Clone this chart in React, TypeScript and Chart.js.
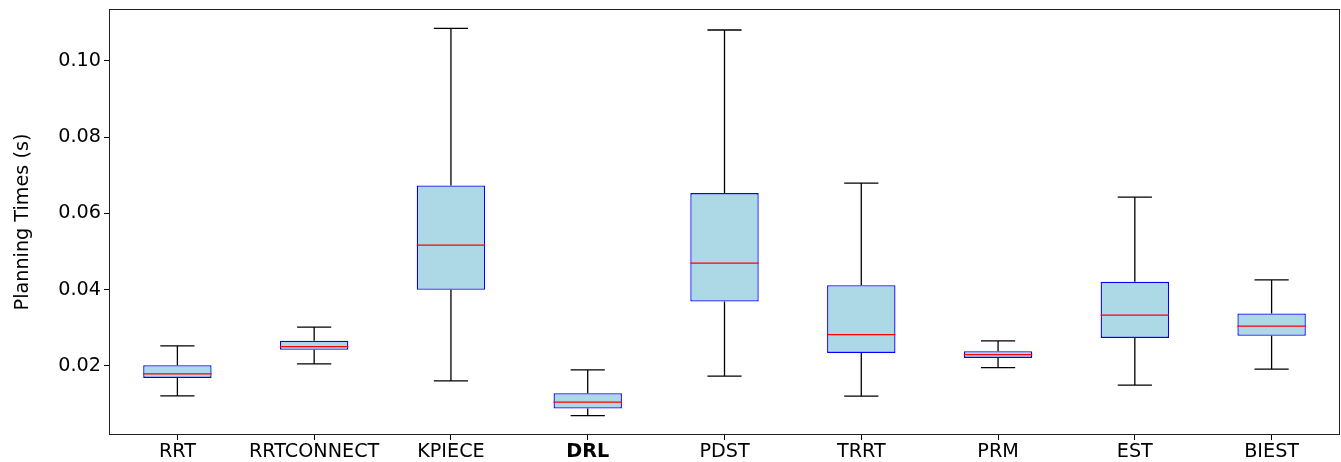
import React, { useEffect, useRef } from "react";
import { Chart, registerables } from "chart.js";

Chart.register(...registerables);

const categories = ["RRT", "RRTCONNECT", "KPIECE", "DRL", "PDST", "TRRT", "PRM", "EST", "BIEST"];
const whiskerLow = [0.01213, 0.02052, 0.01607, 0.00696, 0.0173, 0.01205, 0.01955, 0.01494, 0.01913];
const q1 = [0.01685, 0.0242, 0.03993, 0.0088, 0.03687, 0.02341, 0.0221, 0.02734, 0.02787];
const medians = [0.0179, 0.02506, 0.05166, 0.01048, 0.04694, 0.02821, 0.02297, 0.0333, 0.03041];
const q3 = [0.02018, 0.02656, 0.0673, 0.01284, 0.0653, 0.04117, 0.02385, 0.04203, 0.03372];
const whiskerHigh = [0.02525, 0.03015, 0.10848, 0.01895, 0.10805, 0.0679, 0.02656, 0.06425, 0.04256];
const yTickValues = [0.02, 0.04, 0.06, 0.08, 0.1];
const boldCategory = "DRL";

const FONT = "'DejaVu Sans', sans-serif";
const FSIZE = 19.2;

const boxPlugin = {
  id: "boxExtras",
  afterDatasetsDraw(chart: any) {
    const ctx = chart.ctx;
    const xs = chart.scales.x;
    const ys = chart.scales.y;
    const meta = chart.getDatasetMeta(0);
    ctx.save();
    categories.forEach((_, i) => {
      const el: any = meta.data[i];
      const cx = xs.getPixelForValue(i);
      const w = el.width;
      const capHalf = w / 4;
      const yLow = ys.getPixelForValue(whiskerLow[i]);
      const yQ1 = ys.getPixelForValue(q1[i]);
      const yQ3 = ys.getPixelForValue(q3[i]);
      const yHigh = ys.getPixelForValue(whiskerHigh[i]);
      const yMed = ys.getPixelForValue(medians[i]);
      ctx.strokeStyle = "#000000";
      ctx.lineWidth = 1.3;
      ctx.beginPath();
      ctx.moveTo(cx, yQ3);
      ctx.lineTo(cx, yHigh);
      ctx.moveTo(cx - capHalf, yHigh);
      ctx.lineTo(cx + capHalf, yHigh);
      ctx.moveTo(cx, yQ1);
      ctx.lineTo(cx, yLow);
      ctx.moveTo(cx - capHalf, yLow);
      ctx.lineTo(cx + capHalf, yLow);
      ctx.stroke();
      ctx.strokeStyle = "#ff0000";
      ctx.lineWidth = 1.3;
      ctx.beginPath();
      ctx.moveTo(cx - w / 2, yMed);
      ctx.lineTo(cx + w / 2, yMed);
      ctx.stroke();
    });
    const a = chart.chartArea;
    ctx.strokeStyle = "#222222";
    ctx.lineWidth = 1;
    ctx.strokeRect(a.left + 0.5, a.top + 0.5, a.right - a.left - 1, a.bottom - a.top - 1);
    ctx.restore();
  },
};

export default function App() {
  const ref = useRef<HTMLCanvasElement | null>(null);
  useEffect(() => {
    document.body.style.margin = "0";
    if (!ref.current) return;
    const dMin = Math.min(...whiskerLow);
    const dMax = Math.max(...whiskerHigh);
    const pad = (dMax - dMin) * 0.05;
    const chart = new Chart(ref.current, {
      type: "bar",
      data: {
        labels: categories,
        datasets: [
          {
            data: categories.map((_, i) => [q1[i], q3[i]]) as any,
            backgroundColor: "#ADD8E6",
            borderColor: "#0000FF",
            borderWidth: 1.3,
            borderSkipped: false,
            barPercentage: 0.5,
            categoryPercentage: 1,
          },
        ],
      },
      options: {
        responsive: false,
        animation: false,
        layout: { padding: { left: 0, right: 1, top: 9, bottom: 0 } },
        plugins: { legend: { display: false }, tooltip: { enabled: false } },
        scales: {
          x: {
            offset: true,
            border: { display: false },
            grid: { display: true, drawOnChartArea: false, drawTicks: true, tickLength: 5, color: "#000", offset: false },
            ticks: {
              color: "#000",
              padding: 0,
              maxRotation: 0,
              autoSkip: false,
              font: (c: any) => ({
                family: FONT,
                size: FSIZE,
                weight: c.tick && c.tick.label === boldCategory ? "bold" : "normal",
              }),
            },
            afterFit: (s: any) => {
              s.height = 27;
              s.paddingLeft = 0;
              s.paddingRight = 0;
            },
          },
          y: {
            min: dMin - pad,
            max: dMax + pad,
            border: { display: false },
            grid: { display: true, drawOnChartArea: false, drawTicks: true, tickLength: 5, color: "#000" },
            afterBuildTicks: (s: any) => {
              s.ticks = yTickValues.map((v) => ({ value: v }));
            },
            ticks: {
              color: "#000",
              padding: 3,
              font: { family: FONT, size: FSIZE },
              callback: (v: any) => Number(v).toFixed(2),
            },
            title: {
              display: true,
              text: "Planning Times (s)",
              color: "#000",
              font: { family: FONT, size: FSIZE },
              padding: { top: 11, bottom: 0 },
            },
            afterFit: (s: any) => {
              s.width = 109;
              s.paddingTop = 0;
              s.paddingBottom = 0;
            },
          },
        },
      },
      plugins: [boxPlugin],
    });
    return () => chart.destroy();
  }, []);
  return (
    <div style={{ width: 1341, height: 462 }}>
      <canvas ref={ref} width={1341} height={462} style={{ display: "block" }} />
    </div>
  );
}
